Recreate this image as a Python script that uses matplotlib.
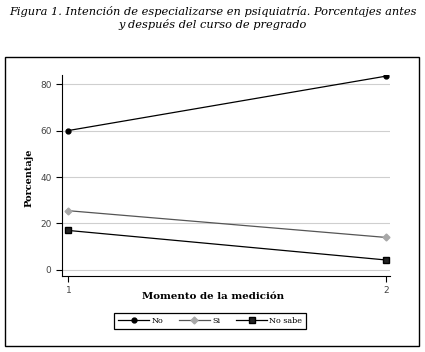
# Intencion de especializarse en psiquiatria, antes y despues del curso
import matplotlib
matplotlib.use("Agg")
import matplotlib.pyplot as plt
from matplotlib.patches import Rectangle

momentos = [1, 2]
no = [60, 83.4]
si = [25.5, 14]
no_sabe = [17, 4.3]
yticks = [0, 20, 40, 60, 80]

fig = plt.figure(figsize=(4.25, 3.52), dpi=100)
fig.patch.set_facecolor("white")

fig.text(0.5, 0.968, "Figura 1. Intención de especializarse en psiquiatría. Porcentajes antes",
         ha="center", va="center", family="DejaVu Serif", style="italic", fontsize=8.2)
fig.text(0.5, 0.930, "y después del curso de pregrado",
         ha="center", va="center", family="DejaVu Serif", style="italic", fontsize=8.2)

# outer frame
fig.patches.append(Rectangle((5/425, 1-346/352), 414/425, 289/352, transform=fig.transFigure,
                             fill=False, edgecolor="black", linewidth=1.0))

ax = fig.add_axes([62/425, 1-276/352, 328/425, 201/352])
for y in yticks:
    ax.axhline(y, color="#cfcfcf", linewidth=0.8, zorder=0)

ax.plot(momentos, no, color="black", linewidth=0.9, marker="o", markersize=3.5, label="No")
ax.plot(momentos, si, color="#555555", linewidth=0.9, marker="D", markersize=3.5,
        markerfacecolor="#a8a8a8", markeredgecolor="#a8a8a8", label="Si")
ax.plot(momentos, no_sabe, color="black", linewidth=0.9, marker="s", markersize=3.8,
        markerfacecolor="#222222", label="No sabe")

ax.set_xlim(0.98, 2.013)
ax.set_ylim(-2.6, 83.9)
ax.set_xticks(momentos)
ax.set_yticks(yticks)
ax.spines["top"].set_visible(False)
ax.spines["right"].set_visible(False)
ax.tick_params(direction="out", length=4, width=0.8, labelsize=6.5, labelcolor="#444444")
ax.set_xlabel("Momento de la medición", family="DejaVu Serif", fontweight="bold", fontsize=7.4)
ax.set_ylabel("Porcentaje", family="DejaVu Serif", fontweight="bold", fontsize=7.0)
ax.xaxis.set_label_coords(0.46, -0.082)
ax.yaxis.set_label_coords(-0.088, 0.49)

leg = fig.legend(loc="center", bbox_to_anchor=(0.495, 0.088), ncol=3, fancybox=False,
                 edgecolor="black", framealpha=1, prop={"family": "DejaVu Serif", "size": 5.8},
                 handlelength=3.8, columnspacing=2.0, handletextpad=0.3, borderpad=0.5)
leg.get_frame().set_linewidth(0.9)

fig.savefig("out.png", dpi=100)
